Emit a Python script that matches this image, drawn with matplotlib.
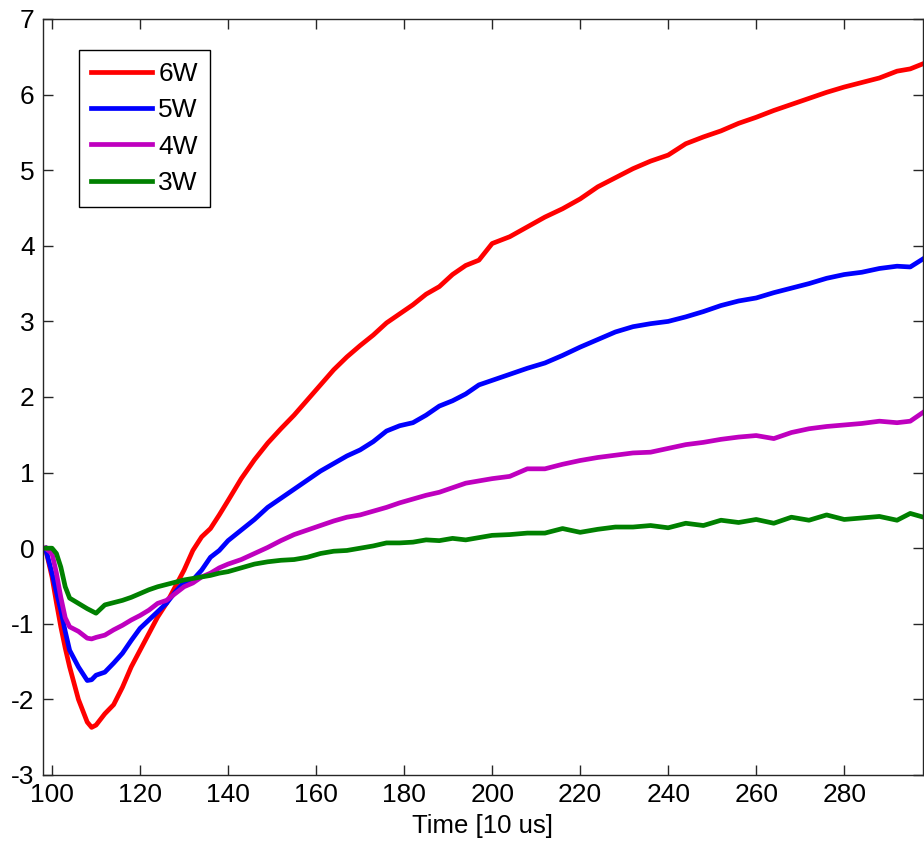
import numpy as np
import matplotlib
matplotlib.use("Agg")
import matplotlib.pyplot as plt

plt.rcParams['font.family'] = ['Liberation Sans', 'DejaVu Sans']
plt.rcParams['axes.unicode_minus'] = False

# time axis [10 us]
t = [98.5, 100, 101, 102, 103, 104,
     106, 108, 109, 110,
     112, 114, 116, 118, 120, 122, 124, 126, 128, 130, 132, 134, 136, 138, 140,
     143, 146, 149, 152, 155, 158, 161, 164, 167, 170, 173, 176, 179, 182, 185,
     188, 191, 194, 197, 200,
     204, 208, 212, 216, 220, 224, 228, 232, 236, 240, 244, 248, 252, 256, 260,
     264, 268, 272, 276, 280, 284, 288, 292,
     295, 298]

w6 = [0, -0.38, -0.72, -1.04, -1.32, -1.57,
      -2.00, -2.30, -2.37, -2.34,
      -2.19, -2.07, -1.84, -1.57, -1.35, -1.13, -0.91, -0.73, -0.51, -0.29, -0.03, 0.15, 0.26, 0.44, 0.63,
      0.92, 1.17, 1.39, 1.58, 1.76, 1.96, 2.16, 2.36, 2.53, 2.68, 2.82, 2.98, 3.10, 3.22, 3.36,
      3.46, 3.62, 3.74, 3.81, 4.03,
      4.12, 4.25, 4.38, 4.49, 4.62, 4.78, 4.90, 5.02, 5.12, 5.20, 5.35, 5.44, 5.52, 5.62, 5.70,
      5.79, 5.87, 5.95, 6.03, 6.10, 6.16, 6.22, 6.31,
      6.34, 6.41]

w5 = [0, -0.33, -0.58, -0.82, -1.10, -1.35,
      -1.57, -1.75, -1.74, -1.68,
      -1.64, -1.52, -1.39, -1.22, -1.06, -0.95, -0.84, -0.73, -0.58, -0.45, -0.42, -0.29, -0.12, -0.03, 0.10,
      0.24, 0.38, 0.54, 0.66, 0.78, 0.90, 1.02, 1.12, 1.22, 1.30, 1.41, 1.55, 1.62, 1.66, 1.76,
      1.88, 1.95, 2.04, 2.16, 2.22,
      2.30, 2.38, 2.45, 2.55, 2.66, 2.76, 2.86, 2.93, 2.97, 3.00, 3.06, 3.13, 3.21, 3.27, 3.31,
      3.38, 3.44, 3.50, 3.57, 3.62, 3.65, 3.70, 3.73,
      3.72, 3.83]

w4 = [0, -0.07, -0.33, -0.65, -0.92, -1.04,
      -1.10, -1.19, -1.20, -1.18,
      -1.15, -1.08, -1.02, -0.95, -0.89, -0.82, -0.73, -0.69, -0.60, -0.51, -0.46, -0.38, -0.33, -0.26, -0.21,
      -0.15, -0.07, 0.01, 0.10, 0.18, 0.24, 0.30, 0.36, 0.41, 0.44, 0.49, 0.54, 0.60, 0.65, 0.70,
      0.74, 0.80, 0.86, 0.89, 0.92,
      0.95, 1.05, 1.05, 1.11, 1.16, 1.20, 1.23, 1.26, 1.27, 1.32, 1.37, 1.40, 1.44, 1.47, 1.49,
      1.45, 1.53, 1.58, 1.61, 1.63, 1.65, 1.68, 1.66,
      1.68, 1.80]

w3 = [0, 0.0, -0.07, -0.25, -0.51, -0.66,
      -0.73, -0.80, -0.83, -0.86,
      -0.75, -0.72, -0.69, -0.65, -0.60, -0.55, -0.51, -0.48, -0.45, -0.42, -0.40, -0.38, -0.36, -0.33, -0.31,
      -0.26, -0.21, -0.18, -0.16, -0.15, -0.12, -0.07, -0.04, -0.03, 0.0, 0.03, 0.07, 0.07, 0.08, 0.11,
      0.10, 0.13, 0.11, 0.14, 0.17,
      0.18, 0.20, 0.20, 0.26, 0.21, 0.25, 0.28, 0.28, 0.30, 0.27, 0.33, 0.30, 0.37, 0.34, 0.38,
      0.33, 0.41, 0.37, 0.44, 0.38, 0.40, 0.42, 0.37,
      0.46, 0.41]

labels = ['6W', '5W', '4W', '3W']
colors = ['#ff0000', '#0000ff', '#bf00bf', '#008000']

fig = plt.figure(figsize=(9.24, 8.44), dpi=100)
ax = fig.add_axes([43/924, 69/844, 880/924, 756/844])

for y, lab, c in zip([w6, w5, w4, w3], labels, colors):
    ax.plot(t, y, color=c, lw=3.4, label=lab)

ax.set_xlim(97.95, 297.9)
ax.set_ylim(-3, 7)
ax.set_xticks(np.arange(100, 300, 20))
ax.set_yticks(np.arange(-3, 8, 1))
ax.tick_params(direction='in', length=7, width=1, top=True, right=True,
               labelsize=19, colors='#262626', labelcolor='black', pad=6)
for s in ax.spines.values():
    s.set_color('#262626')
    s.set_linewidth(1)

ax.set_xlabel('Time [10 us]', fontsize=18.5, labelpad=5)

leg = ax.legend(loc='upper left', bbox_to_anchor=(0.041, 0.959), borderaxespad=0,
                fontsize=19, fancybox=False, framealpha=1, edgecolor='black',
                handlelength=2.3, handletextpad=0.25, labelspacing=0.47,
                borderpad=0.45)
leg.get_frame().set_linewidth(1)

fig.savefig('out.png', dpi=100)
